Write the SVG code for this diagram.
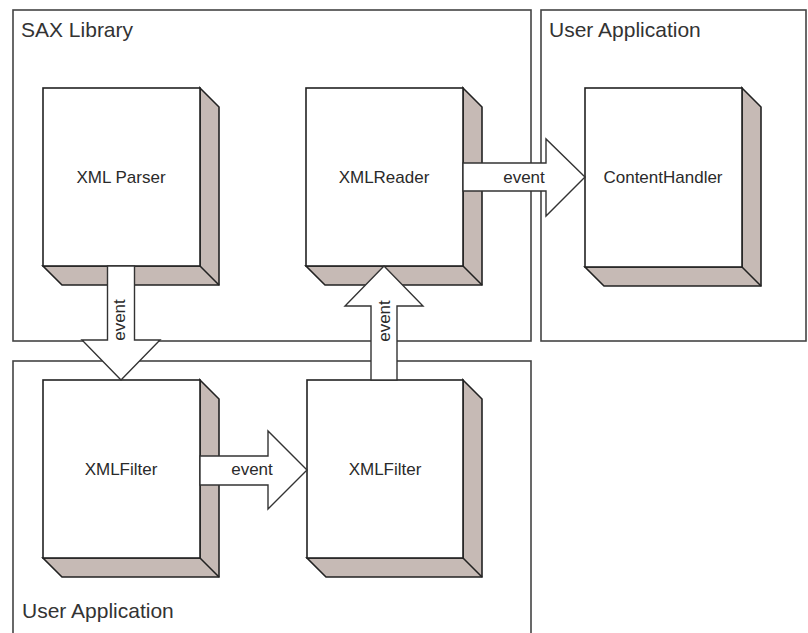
<svg xmlns="http://www.w3.org/2000/svg" width="808" height="633" viewBox="0 0 808 633">
  <style>
    .frame { fill: #ffffff; stroke: #444444; stroke-width: 1.6; }
    .frame-label { font-family: "Liberation Sans", Arial, sans-serif; font-size: 21px; fill: #333333; }
    .face { fill: #ffffff; stroke: #222222; stroke-width: 1.6; }
    .depth { fill: #c6bab5; stroke: #222222; stroke-width: 1.6; stroke-linejoin: miter; }
    .node-label { font-family: "Liberation Sans", Arial, sans-serif; font-size: 17px; fill: #2a2a2a; text-anchor: middle; }
    .flow { fill: #ffffff; stroke: #333333; stroke-width: 1.4; stroke-linejoin: miter; }
    .flow-label { font-family: "Liberation Sans", Arial, sans-serif; font-size: 17px; fill: #2a2a2a; text-anchor: middle; }
  </style>

  <rect width="808" height="633" fill="#ffffff"/>

  <!-- package frames -->
  <g id="sax-library">
    <rect class="frame" x="13" y="10" width="518" height="331"/>
    <text class="frame-label" x="21" y="37">SAX Library</text>
  </g>
  <g id="user-application-top">
    <rect class="frame" x="541" y="10" width="265" height="331"/>
    <text class="frame-label" x="549" y="37">User Application</text>
  </g>
  <g id="user-application-bottom">
    <rect class="frame" x="13" y="361" width="518" height="290"/>
    <text class="frame-label" x="22" y="618">User Application</text>
  </g>

  <!-- 3D component blocks: depth polygon, corner crease, front face -->
  <g id="xml-parser">
    <polygon class="depth" points="200,88 219,107 219,285 62,285 43,266 200,266"/>
    <line class="depth" x1="200" y1="266" x2="219" y2="285"/>
    <rect class="face" x="43" y="88" width="157" height="178"/>
    <text class="node-label" x="121" y="183">XML Parser</text>
  </g>
  <g id="xml-reader">
    <polygon class="depth" points="463,88 482,107 482,285 325,285 306,266 463,266"/>
    <line class="depth" x1="463" y1="266" x2="482" y2="285"/>
    <rect class="face" x="306" y="88" width="157" height="178"/>
    <text class="node-label" x="384" y="183">XMLReader</text>
  </g>
  <g id="content-handler">
    <polygon class="depth" points="742,88 761,107 761,286 604,286 585,267 742,267"/>
    <line class="depth" x1="742" y1="267" x2="761" y2="286"/>
    <rect class="face" x="585" y="88" width="157" height="179"/>
    <text class="node-label" x="663" y="183">ContentHandler</text>
  </g>
  <g id="xml-filter-1">
    <polygon class="depth" points="200,380 219,399 219,577 62,577 43,558 200,558"/>
    <line class="depth" x1="200" y1="558" x2="219" y2="577"/>
    <rect class="face" x="43" y="380" width="157" height="178"/>
    <text class="node-label" x="121" y="475">XMLFilter</text>
  </g>
  <g id="xml-filter-2">
    <polygon class="depth" points="463,380 482,399 482,577 326,577 307,558 463,558"/>
    <line class="depth" x1="463" y1="558" x2="482" y2="577"/>
    <rect class="face" x="307" y="380" width="156" height="178"/>
    <text class="node-label" x="385" y="475">XMLFilter</text>
  </g>

  <!-- event flows as block arrows -->
  <g id="connectors">
    <!-- XML Parser -> XMLFilter -->
    <polygon class="flow" points="107.5,266 134.5,266 134.5,340 160,340 121,380 82,340 107.5,340"/>
    <text class="flow-label" transform="translate(125,320) rotate(-90)">event</text>

    <!-- XMLFilter -> XMLFilter -->
    <polygon class="flow" points="200,456 268,456 268,431 307,470 268,509 268,485 200,485"/>
    <text class="flow-label" x="252" y="475">event</text>

    <!-- XMLFilter -> XMLReader -->
    <polygon class="flow" points="371,380 371,306 345,306 384,266 423,306 397,306 397,380"/>
    <text class="flow-label" transform="translate(390,321) rotate(-90)">event</text>

    <!-- XMLReader -> ContentHandler -->
    <polygon class="flow" points="463,163 546,163 546,139 585,177 546,216 546,191 463,191"/>
    <text class="flow-label" x="524" y="183">event</text>
  </g>
</svg>
